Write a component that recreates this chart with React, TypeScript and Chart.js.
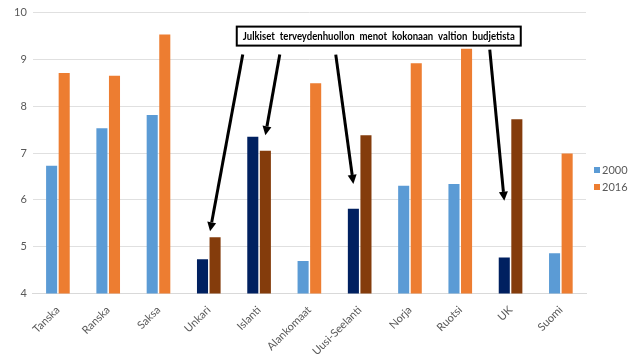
import React, { useEffect, useRef } from 'react';
import { Chart, registerables } from 'chart.js';

Chart.register(...registerables);

const categories = ['Tanska', 'Ranska', 'Saksa', 'Unkari', 'Islanti', 'Alankomaat', 'Uusi-Seelanti', 'Norja', 'Ruotsi', 'UK', 'Suomi'];
const values2000 = [6.73, 7.53, 7.81, 4.73, 7.35, 4.69, 5.81, 6.3, 6.34, 4.77, 4.86];
const values2016 = [8.71, 8.65, 9.53, 5.2, 7.05, 8.49, 7.38, 8.92, 9.23, 7.72, 6.99];
const seriesNames = ['2000', '2016'];
const highlighted = ['Unkari', 'Islanti', 'Uusi-Seelanti', 'UK'];
const yMin = 4;
const yMax = 10;
const yStep = 1;
const annotationText = 'Julkiset terveydenhuollon menot kokonaan valtion budjetista';
// arrow targets: category, series index, value where the arrow tip points
const arrowCategories = ['Unkari', 'Islanti', 'Uusi-Seelanti', 'UK'];
const arrowSeries = [1, 1, 0, 0];
const arrowValues = [5.33, 7.38, 6.34, 5.98];

const BLUE = '#5B9BD5';
const ORANGE = '#ED7D31';
const NAVY = '#002060';
const BROWN = '#843C0C';
const FONT = 'Lato, "Open Sans", "Liberation Sans", sans-serif';

const annotationPlugin = {
  id: 'annotationBox',
  afterDatasetsDraw(chart: any) {
    const ctx = chart.ctx;
    const area = chart.chartArea;
    const yScale = chart.scales.y;
    const boxLeft = area.left + 204;
    const boxRight = boxLeft + 284;
    const boxTop = area.top + 14;
    const boxBottom = area.top + 33;
    const starts = [
      [boxLeft + 6, boxBottom + 9],
      [boxLeft + 43, boxBottom + 9],
      [boxLeft + 99, boxBottom + 9],
      [boxLeft + 253, boxBottom + 4],
    ];
    ctx.save();
    arrowCategories.forEach((cat, i) => {
      const idx = categories.indexOf(cat);
      const meta = chart.getDatasetMeta(arrowSeries[i]);
      const el = meta.data[idx];
      let tx = el.x;
      if (cat === 'Unkari') tx = el.x - 5;
      const ty = yScale.getPixelForValue(arrowValues[i]);
      const [sx, sy] = starts[i];
      const ang = Math.atan2(ty - sy, tx - sx);
      const headLen = 9;
      const headW = 4.5;
      const bx = tx - headLen * Math.cos(ang);
      const by = ty - headLen * Math.sin(ang);
      ctx.strokeStyle = '#000';
      ctx.lineWidth = 3;
      ctx.beginPath();
      ctx.moveTo(sx, sy);
      ctx.lineTo(bx, by);
      ctx.stroke();
      ctx.fillStyle = '#000';
      ctx.beginPath();
      ctx.moveTo(tx, ty);
      ctx.lineTo(bx + headW * Math.sin(ang), by - headW * Math.cos(ang));
      ctx.lineTo(bx - headW * Math.sin(ang), by + headW * Math.cos(ang));
      ctx.closePath();
      ctx.fill();
    });
    ctx.fillStyle = '#fff';
    ctx.fillRect(boxLeft, boxTop, boxRight - boxLeft, boxBottom - boxTop);
    ctx.strokeStyle = '#000';
    ctx.lineWidth = 2;
    ctx.strokeRect(boxLeft, boxTop, boxRight - boxLeft, boxBottom - boxTop);
    ctx.fillStyle = '#000';
    ctx.font = 'bold 11px ' + FONT;
    ctx.textAlign = 'center';
    ctx.textBaseline = 'middle';
    (ctx as any).wordSpacing = '3px';
    ctx.fillText(annotationText, (boxLeft + boxRight) / 2, (boxTop + boxBottom) / 2 + 0.5, boxRight - boxLeft - 12);

    // legend
    const legendColors = [BLUE, ORANGE];
    const midY = (chart.height) / 2;
    ctx.font = '11px ' + FONT;
    ctx.textAlign = 'left';
    ctx.textBaseline = 'middle';
    seriesNames.forEach((name, i) => {
      const y = midY - 10 + i * 17;
      ctx.fillStyle = legendColors[i];
      ctx.fillRect(area.right + 8, y - 3, 6, 6);
      ctx.fillStyle = '#595959';
      ctx.fillText(name, area.right + 16, y + 0.5);
    });
    ctx.restore();
  },
};

export default function App() {
  const canvasRef = useRef<HTMLCanvasElement | null>(null);

  useEffect(() => {
    document.body.style.margin = '0';
    const canvas = canvasRef.current;
    if (!canvas) return;
    const colors2000 = categories.map((c) => (highlighted.includes(c) ? NAVY : BLUE));
    const colors2016 = categories.map((c) => (highlighted.includes(c) ? BROWN : ORANGE));
    const chart = new Chart(canvas, {
      type: 'bar',
      data: {
        labels: categories,
        datasets: [
          { label: seriesNames[0], data: values2000, backgroundColor: colors2000, categoryPercentage: 0.5, barPercentage: 0.88 },
          { label: seriesNames[1], data: values2016, backgroundColor: colors2016, categoryPercentage: 0.5, barPercentage: 0.88 },
        ],
      },
      options: {
        animation: false,
        responsive: false,
        maintainAspectRatio: false,
        layout: { padding: { left: 8, right: 54, top: 8, bottom: 0 } },
        plugins: {
          legend: { display: false },
          tooltip: { enabled: false },
        },
        scales: {
          x: {
            grid: { display: false },
            border: { color: '#D9D9D9' },
            ticks: {
              autoSkip: false,
              maxRotation: 45,
              minRotation: 45,
              padding: 2,
              color: '#595959',
              font: { size: 11, family: FONT },
            },
          },
          y: {
            min: yMin,
            max: yMax,
            border: { display: false },
            grid: { color: '#E0E0E0', drawTicks: false },
            ticks: {
              stepSize: yStep,
              padding: 6,
              color: '#595959',
              font: { size: 11, family: FONT },
            },
          },
        },
      },
      plugins: [annotationPlugin],
    });
    return () => chart.destroy();
  }, []);

  return (
    <div style={{ position: 'absolute', left: 0, top: 0, width: 640, height: 360, background: '#fff' }}>
      <canvas ref={canvasRef} width={640} height={360} style={{ width: 640, height: 360 }} />
    </div>
  );
}
